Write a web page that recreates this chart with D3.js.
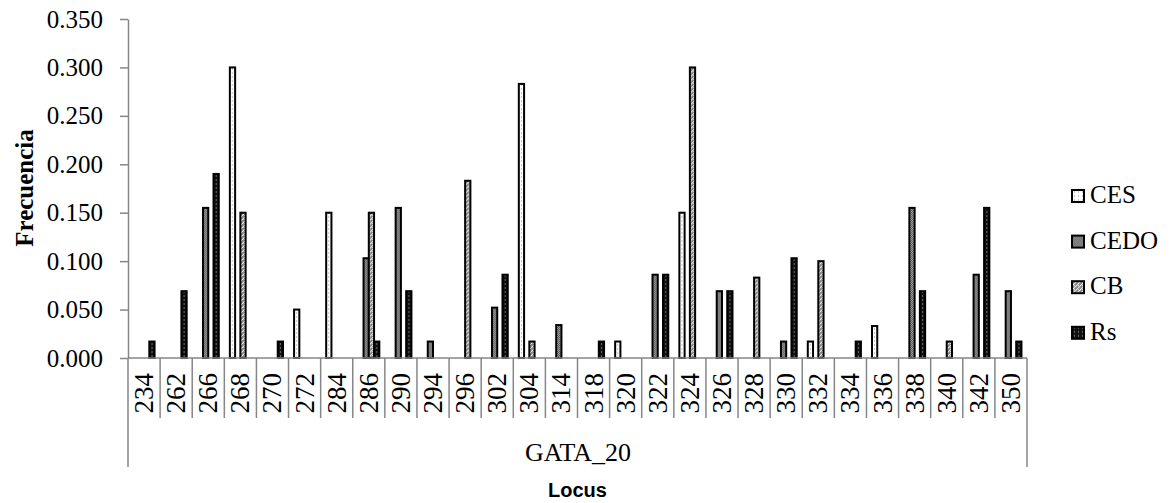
<!DOCTYPE html>
<html>
<head>
<meta charset="utf-8">
<script src="https://cdnjs.cloudflare.com/ajax/libs/d3/7.8.5/d3.min.js"></script>
<style>
  body { margin: 0; background: #fff; }
  text { font-family: "Liberation Serif", "Times New Roman", serif; fill: #000; }
</style>
</head>
<body>
<div id="chart"></div>
<script>
// data

var categories = ["234", "262", "266", "268", "270", "272", "284", "286", "290", "294",
                  "296", "302", "304", "314", "318", "320", "322", "324", "326", "328",
                  "330", "332", "334", "336", "338", "340", "342", "350"];

var seriesNames = ["CES", "CEDO", "CB", "Rs"];

var ces  = [0, 0, 0, 0.300, 0, 0.050, 0.150, 0, 0, 0, 0, 0, 0.283, 0, 0, 0.017, 0, 0.150, 0, 0, 0, 0.017, 0, 0.033, 0, 0, 0, 0];
var cedo = [0, 0, 0.155, 0, 0, 0, 0, 0.103, 0.155, 0.017, 0, 0.052, 0, 0.034, 0, 0, 0.086, 0, 0.069, 0, 0.017, 0, 0, 0, 0.155, 0, 0.086, 0.069];
var cb   = [0, 0, 0, 0.150, 0, 0, 0, 0.150, 0, 0, 0.183, 0, 0.017, 0, 0, 0, 0, 0.300, 0, 0.083, 0, 0.100, 0, 0, 0, 0.017, 0, 0];
var rs   = [0.017, 0.069, 0.190, 0, 0.017, 0, 0, 0.017, 0.069, 0, 0, 0.086, 0, 0, 0.017, 0, 0.086, 0, 0.069, 0, 0.103, 0, 0.017, 0, 0.069, 0, 0.155, 0.017];

var yTicks = [0, 0.05, 0.10, 0.15, 0.20, 0.25, 0.30, 0.35];
var groupLabel = "GATA_20";

// layout

var outerWidth = 1172,
    outerHeight = 503,
    margin = { top: 19, left: 128 },
    width = 899,
    height = 339;

var svg = d3.select("#chart")
    .append("svg")
    .attr("width", outerWidth)
    .attr("height", outerHeight);

// fill patterns like the excel ones
var defs = svg.append("defs");

function pattern(id, w, h, bg) {
    var p = defs.append("pattern")
        .attr("id", id)
        .attr("patternUnits", "userSpaceOnUse")
        .attr("width", w)
        .attr("height", h);
    p.append("rect").attr("width", w).attr("height", h).attr("fill", bg);
    return p;
}

function px(p, x, y, w, h, c) {
    p.append("rect").attr("x", x).attr("y", y).attr("width", w).attr("height", h).attr("fill", c);
}

var pCes = pattern("p-ces", 4, 4, "#fff");
px(pCes, 2, 1, 1, 2, "#c8c8c8");

var pCedo = pattern("p-cedo", 2, 2, "#a0a0a0");
px(pCedo, 0, 0, 1, 1, "#5a5a5a");
px(pCedo, 1, 1, 1, 1, "#5a5a5a");

var pCb = pattern("p-cb", 4, 4, "#8a8a8a");
px(pCb, 0, 0, 1, 1, "#fff");
px(pCb, 1, 3, 1, 1, "#fff");
px(pCb, 2, 2, 1, 1, "#fff");
px(pCb, 3, 1, 1, 1, "#fff");
px(pCb, 2, 0, 1, 1, "#eee");

var pRs = pattern("p-rs", 4, 4, "#111");
px(pRs, 2, 0, 1, 2, "#666");

var fills = ["url(#p-ces)", "url(#p-cedo)", "url(#p-cb)", "url(#p-rs)"];

var table = categories.map(function(c, i) {
    return { cat: c, values: [ces[i], cedo[i], cb[i], rs[i]] };
});

var x = d3.scaleBand()
    .domain(categories)
    .range([0, width])
    .paddingInner(0.345)
    .paddingOuter(0.1725);

var xInner = d3.scaleBand()
    .domain(seriesNames)
    .range([0, x.bandwidth()]);

var y = d3.scaleLinear()
    .domain([0, 0.35])
    .range([height, 0]);

var g = svg.append("g")
    .attr("transform", "translate(" + margin.left + "," + margin.top + ")");

// y axis
var yAxis = d3.axisLeft(y)
    .tickValues(yTicks)
    .tickSize(8)
    .tickSizeOuter(0)
    .tickPadding(17)
    .tickFormat(d3.format(".3f"));

var gY = g.append("g").call(yAxis);
gY.select(".domain").attr("stroke", "#868686").attr("stroke-width", 1.5);
gY.selectAll(".tick line").attr("stroke", "#868686").attr("stroke-width", 1.5);
gY.selectAll(".tick text")
    .style("font-family", "'Liberation Serif', serif")
    .style("font-size", "25px")
    .attr("fill", "#000");

// bars
var groups = g.selectAll(".grp")
    .data(table)
    .enter()
    .append("g")
    .attr("transform", function(d) { return "translate(" + x(d.cat) + ",0)"; });

groups.selectAll("rect")
    .data(function(d) {
        return d.values.map(function(v, j) { return { s: seriesNames[j], j: j, v: v }; })
            .filter(function(e) { return e.v > 0; });
    })
    .enter()
    .append("rect")
    .attr("x", function(d) { return xInner(d.s); })
    .attr("width", xInner.bandwidth())
    .attr("y", function(d) { return y(d.v); })
    .attr("height", function(d) { return height - y(d.v); })
    .attr("fill", function(d) { return fills[d.j]; })
    .attr("stroke", "#000")
    .attr("stroke-width", 2);

// x axis: baseline, category boxes, group box
var step = x.step(),
    off = (step - x.bandwidth()) / 2;

function bound(i) {
    return i < categories.length ? x(categories[i]) - off : x(categories[i - 1]) + x.bandwidth() + off;
}

g.append("line")
    .attr("x1", 0).attr("x2", width)
    .attr("y1", height).attr("y2", height)
    .attr("stroke", "#868686").attr("stroke-width", 1.5);

g.selectAll(".cbound")
    .data(d3.range(categories.length + 1))
    .enter()
    .append("line")
    .attr("x1", bound)
    .attr("x2", bound)
    .attr("y1", height)
    .attr("y2", function(i) { return (i == 0 || i == categories.length) ? height + 109 : height + 60; })
    .attr("stroke", "#868686").attr("stroke-width", 1.5);

g.selectAll(".clabel")
    .data(categories)
    .enter()
    .append("text")
    .attr("transform", function(d) {
        return "translate(" + (x(d) + x.bandwidth() / 2) + "," + (height + 15) + ") rotate(-90)";
    })
    .attr("text-anchor", "end")
    .attr("dominant-baseline", "central")
    .style("font-size", "27px")
    .text(function(d) { return d; });

g.append("text")
    .attr("x", width / 2 + 0.5)
    .attr("y", height + 103)
    .attr("text-anchor", "middle")
    .style("font-size", "26px")
    .text(groupLabel);

svg.append("text")
    .attr("x", margin.left + width / 2)
    .attr("y", 497)
    .attr("text-anchor", "middle")
    .style("font-family", "'Liberation Sans', Arial, sans-serif")
    .style("font-weight", "bold")
    .style("font-size", "20px")
    .text("Locus");

svg.append("text")
    .attr("transform", "translate(33,188) rotate(-90)")
    .attr("text-anchor", "middle")
    .style("font-weight", "bold")
    .style("font-size", "25px")
    .text("Frecuencia");

// legend
var legend = svg.selectAll(".legend")
    .data(seriesNames)
    .enter()
    .append("g")
    .attr("transform", function(d, i) { return "translate(1072," + (190 + i * 45.6) + ")"; });

legend.append("rect")
    .attr("width", 12)
    .attr("height", 12)
    .attr("fill", function(d, i) { return fills[i]; })
    .attr("stroke", "#000")
    .attr("stroke-width", 2);

legend.append("text")
    .attr("x", 18)
    .attr("y", 13)
    .style("font-size", "25px")
    .text(function(d) { return d; });
</script>
</body>
</html>
